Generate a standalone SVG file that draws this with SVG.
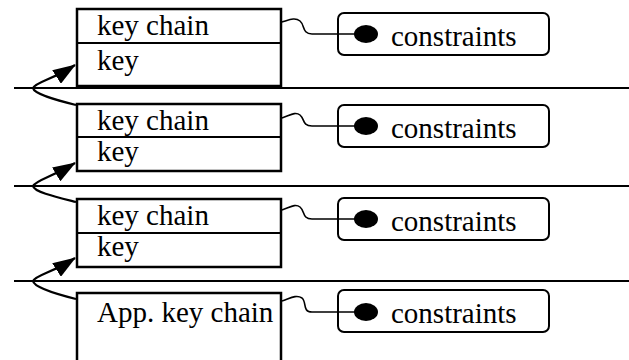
<svg xmlns="http://www.w3.org/2000/svg" width="629" height="360" viewBox="0 0 629 360">
<style>
.box{fill:#fff;stroke:#000;stroke-width:2.5}
.div{stroke:#000;stroke-width:2}
.cbox{fill:#fff;stroke:#000;stroke-width:2}
.t{font-family:"Liberation Serif","Times New Roman",serif;font-size:29px;fill:#000}
.sep{stroke:#000;stroke-width:2}
.wire{fill:none;stroke:#000;stroke-width:1.6}
.arr{fill:none;stroke:#000;stroke-width:2.2}
</style>
<defs>
<marker id="ah" viewBox="0 0 23 16" refX="22" refY="8" markerWidth="23" markerHeight="16" markerUnits="userSpaceOnUse" orient="auto">
<path d="M0,0 L23,8 L0,16 z" fill="#000"/>
</marker>
</defs>
<g id="separators">
<line class="sep" x1="14" y1="88" x2="629" y2="88"/>
<line class="sep" x1="14" y1="186" x2="629" y2="186"/>
<line class="sep" x1="14" y1="281" x2="629" y2="281"/>
</g>
<g id="node-kc1">
<rect class="box" x="77" y="9" width="204" height="77"/>
<line class="div" x1="77" y1="43" x2="281" y2="43"/>
<text class="t" x="97" y="35">key chain</text>
<text class="t" x="97" y="70">key</text>
</g>
<g id="node-kc2">
<rect class="box" x="77" y="104" width="204" height="67"/>
<line class="div" x1="77" y1="137" x2="281" y2="137"/>
<text class="t" x="97" y="130">key chain</text>
<text class="t" x="97" y="161">key</text>
</g>
<g id="node-kc3">
<rect class="box" x="77" y="199" width="204" height="68"/>
<line class="div" x1="77" y1="233" x2="281" y2="233"/>
<text class="t" x="97" y="225">key chain</text>
<text class="t" x="97" y="256">key</text>
</g>
<g id="node-app">
<rect class="box" x="77" y="293" width="204" height="80"/>
<text class="t" x="97" y="322">App. key chain</text>
</g>
<g id="node-c1">
<rect class="cbox" x="338" y="13" width="211" height="42" rx="6"/>
<ellipse cx="366" cy="34" rx="12" ry="9"/>
<text class="t" x="391" y="46">constraints</text>
</g>
<g id="node-c2">
<rect class="cbox" x="338" y="105" width="211" height="42" rx="6"/>
<ellipse cx="366" cy="126" rx="12" ry="9"/>
<text class="t" x="391" y="138">constraints</text>
</g>
<g id="node-c3">
<rect class="cbox" x="338" y="198" width="211" height="42" rx="6"/>
<ellipse cx="366" cy="219" rx="12" ry="9"/>
<text class="t" x="391" y="231">constraints</text>
</g>
<g id="node-c4">
<rect class="cbox" x="338" y="290" width="211" height="42" rx="6"/>
<ellipse cx="366" cy="312" rx="12" ry="9"/>
<text class="t" x="391" y="323">constraints</text>
</g>
<g id="connectors">
<path class="wire" d="M282,22 C289,20 295,17 300,21 C305,25 302,34 312,34 L360,34"/>
<path class="wire" d="M282,118 C289,116 295,111 300,115 C305,119 302,126 312,126 L360,126"/>
<path class="wire" d="M282,210 C289,208 295,203 300,207 C305,211 302,219 312,219 L360,219"/>
<path class="wire" d="M282,301 C289,299 296,294 302,298 C307,302 302,312 312,312 L360,312"/>
<path class="arr" marker-end="url(#ah)" d="M76,105 C56,100 34,94 33,88 C36,82 52,80 75,65"/>
<path class="arr" marker-end="url(#ah)" d="M76,202 C56,197 34,192 33,186 C36,180 52,177 75,163"/>
<path class="arr" marker-end="url(#ah)" d="M76,299 C56,294 34,287 33,281 C36,275 52,273 75,258"/>
</g>
</svg>
